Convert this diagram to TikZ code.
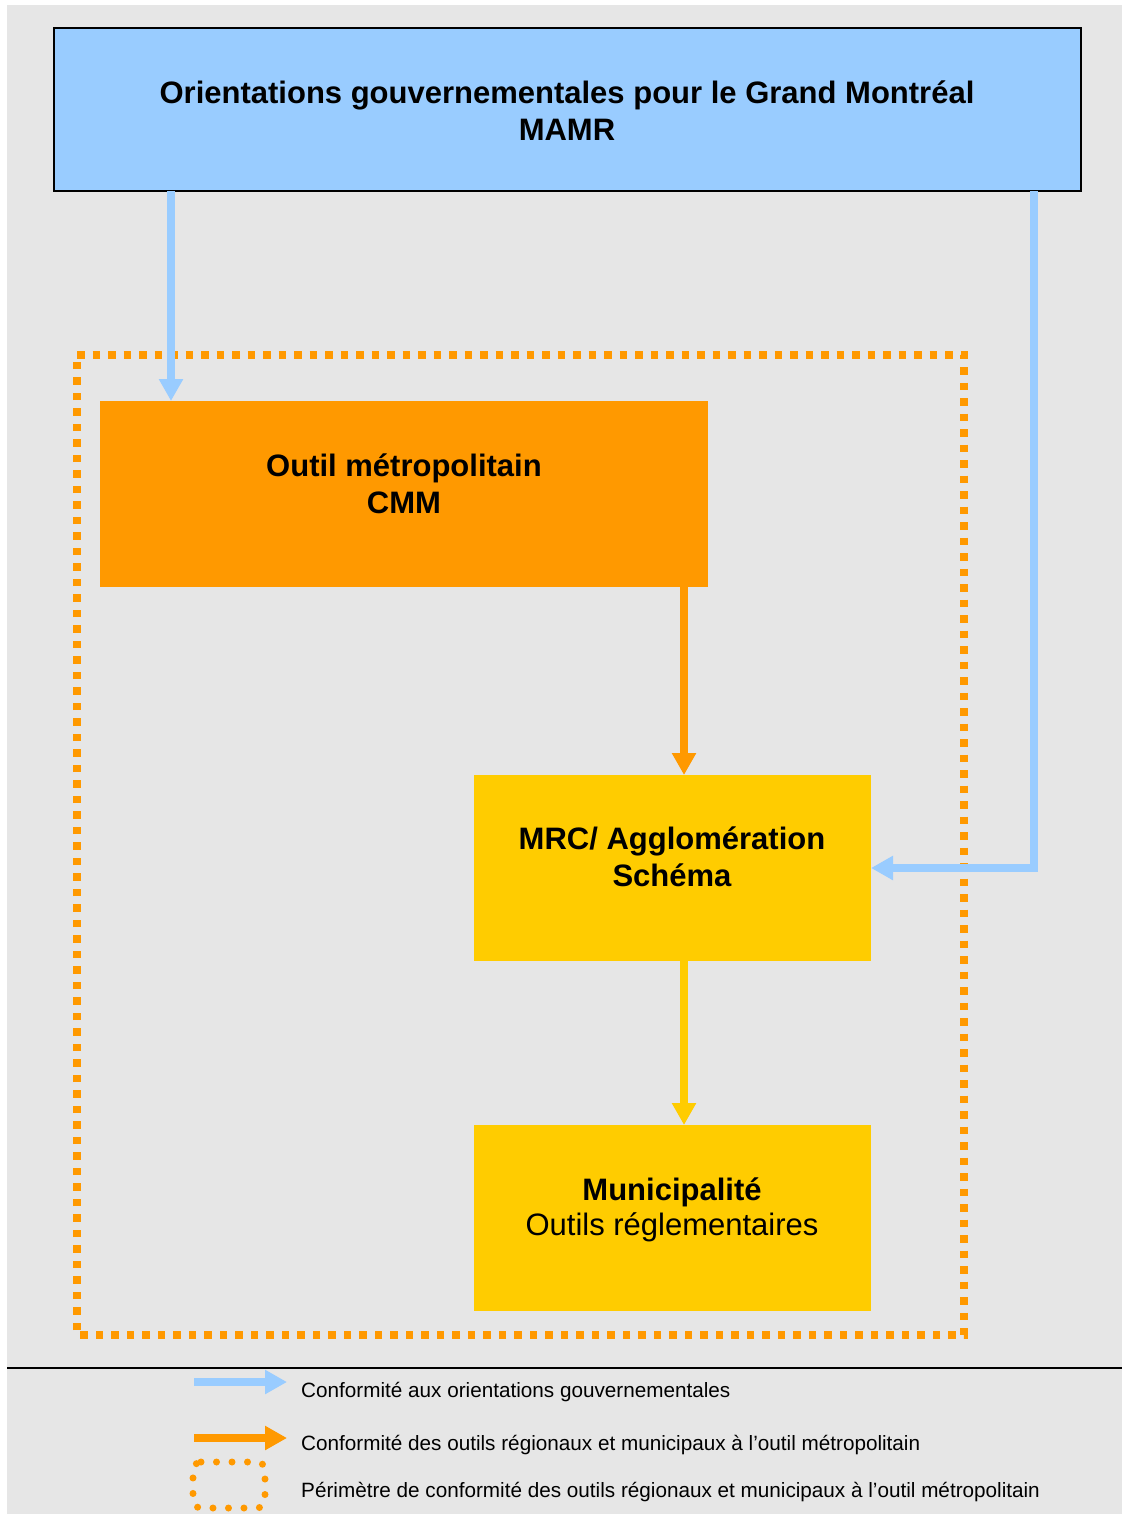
\documentclass[tikz,border=0pt]{standalone}
\usepackage{fontspec}
\setmainfont{Liberation Sans}
\usetikzlibrary{arrows.meta}
\definecolor{bggray}{HTML}{E6E6E6}
\definecolor{govblue}{HTML}{99CCFF}
\definecolor{cmmorange}{HTML}{FF9900}
\definecolor{mrcyellow}{HTML}{FFCC00}
\tikzset{
  bluearrow/.style={draw=govblue, line width=7.5pt, -{Triangle[width=23pt,length=22pt]}},
  orangearrow/.style={draw=cmmorange, line width=7.5pt, -{Triangle[width=23pt,length=22pt]}},
  yellowarrow/.style={draw=mrcyellow, line width=7.5pt, -{Triangle[width=23pt,length=22pt]}},
  boxtext/.style={font=\fontsize{31}{37}\selectfont\bfseries, align=center, inner sep=0pt},
  legendtext/.style={font=\fontsize{20.7}{24}\selectfont, anchor=west, inner sep=0pt},
}
\begin{document}
\begin{tikzpicture}[x=1pt,y=-1pt]
\useasboundingbox (0,0) rectangle (1122,1514);
\fill[bggray] (7,5) rectangle (1122,1514);
% top box
\filldraw[fill=govblue, draw=black, line width=1.5pt] (54,28) rectangle (1081,191);
\node[boxtext] (gov) at (567,111) {Orientations gouvernementales pour le Grand Montréal\\MAMR};
\coordinate (govL) at (171,191);
\coordinate (govR) at (1034,191);
% dotted perimeter
\draw[cmmorange, line width=7.5pt, dash pattern=on 7.5pt off 8pt] (77,355) -- (964,355) -- (964,1335) -- (77,1335) -- cycle;
% orange box
\fill[cmmorange] (100,401) rectangle (708,587);
\node[boxtext] (cmm) at (404,484) {Outil métropolitain\\CMM};
\coordinate (cmmTop) at (171,401);
\coordinate (cmmBot) at (684,587);
% MRC box
\fill[mrcyellow] (474,775) rectangle (871,961);
\node[boxtext] (mrc) at (672,857) {MRC/ Agglomération\\Schéma};
\coordinate (mrcTop) at (684,775);
\coordinate (mrcBot) at (684,961);
\coordinate (mrcR) at (871,868);
% municipalite box
\fill[mrcyellow] (474,1125) rectangle (871,1311);
\node[align=center, inner sep=0pt, font=\fontsize{31}{35}\selectfont] (mun) at (672,1210) {\textbf{Municipalité}\\Outils réglementaires};
\coordinate (munTop) at (684,1125);
% connectors
\draw[bluearrow] (govL) -- (cmmTop);
\draw[bluearrow] (govR) -- (1034,868) -- (mrcR);
\draw[orangearrow] (cmmBot) -- (mrcTop);
\draw[yellowarrow] (mrcBot) -- (munTop);
% separator
\draw[black, line width=2pt] (7,1368) -- (1122,1368);
% legend
\coordinate (l1a) at (194,1382);
\coordinate (l1b) at (287,1382);
\coordinate (l2a) at (194,1438);
\coordinate (l2b) at (287,1438);
\draw[bluearrow] (l1a) -- (l1b);
\draw[orangearrow] (l2a) -- (l2b);
\node[legendtext] (t1) at (301,1392) {Conformité aux orientations gouvernementales};
\node[legendtext] (t2) at (301,1445) {Conformité des outils régionaux et municipaux à l’outil métropolitain};
\node[legendtext] (t3) at (301,1492) {Périmètre de conformité des outils régionaux et municipaux à l’outil métropolitain};
\draw[cmmorange, line width=7pt, line cap=round, dash pattern=on 0pt off 15.5pt, rounded corners=8pt] (193,1462) -- (265,1462) -- (265,1508) -- (193,1508) -- cycle;
\end{tikzpicture}
\end{document}
